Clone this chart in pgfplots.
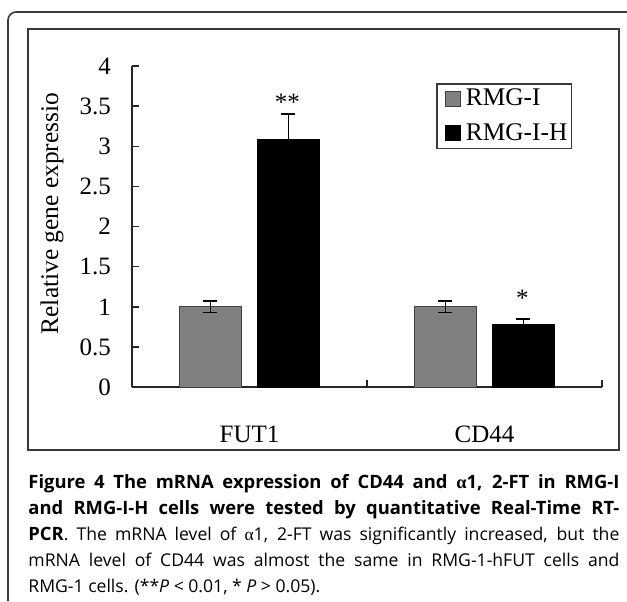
\documentclass[border=0pt]{standalone}
\usepackage{fontspec}
\setmainfont{Liberation Serif}
\newfontfamily\capfont{Open Sans}
\newfontfamily\greekfont{Liberation Serif}
\usepackage{pgfplots}
\pgfplotsset{compat=1.18}

\definecolor{barGray}{HTML}{808080}
\definecolor{frameGray}{HTML}{3A3A3A}

\begin{document}
\begin{tikzpicture}[x=0.5pt,y=0.5pt]
\useasboundingbox (0,0) rectangle (627,601);
% outer frame (only top and left edges show)
\draw[frameGray, line width=0.8pt] (8,0) -- (8,581) arc[start angle=180,end angle=90,radius=8] -- (627,589);
% chart box
\draw[frameGray, line width=0.8pt] (28,151) rectangle (619,572);

\begin{axis}[
    at={(66pt,107pt)}, anchor=south west,
    scale only axis,
    width=235pt, height=160.5pt,
    ybar=8pt,
    bar width=31pt,
    xmin=-0.5, xmax=1.5,
    ymin=0, ymax=4,
    ytick={0,0.5,...,4},
    xtick={-0.5,0.5,1.5},
    xticklabels={,,},
    extra x ticks={0,1},
    extra x tick labels={FUT1,CD44},
    extra x tick style={major tick length=0pt, xticklabel style={yshift=-16pt}},
    axis lines=left,
    axis line style={-, line width=0.75pt, black!85},
    tick align=inside,
    major tick length=3.5pt,
    tick style={line width=0.75pt, black!85},
    tick label style={font=\fontsize{12.5}{15}\selectfont},
    /pgf/number format/assume math mode=true,
    yticklabel style={xshift=-7pt},
    ylabel={Relative gene expressio},
    ylabel style={at={(axis description cs:-0.17,0.54)}, anchor=center, font=\fontsize{12.7}{15}\selectfont},
    legend style={at={(axis description cs:0.647,0.947)}, anchor=north west,
        draw=frameGray, line width=0.75pt, font=\fontsize{12.7}{15}\selectfont,
        row sep=3.5pt, inner ysep=0.5pt, inner xsep=2pt, nodes={inner xsep=0pt}},
    legend cell align=left,
    legend image code/.code={\path[draw=none, fill=none] (0pt,0pt) -- (12.5pt,0pt);
        \draw[#1, line width=0.5pt] (2.5pt,-3.75pt) rectangle (10pt,3.75pt);},
]
\addplot[fill=barGray, draw=black!75, line width=0.5pt,
    error bars/.cd, y dir=both, y explicit,
    error bar style={line width=0.75pt, black},
    error mark options={rotate=90, line width=0.75pt, black, mark size=3.5pt}]
    coordinates {(0,1.00) +- (0,0.07) (1,1.00) +- (0,0.07)};
\addlegendentry{RMG-I}
\addplot[fill=black, draw=black, line width=0.5pt,
    error bars/.cd, y dir=both, y explicit,
    error bar style={line width=0.75pt, black},
    error mark options={rotate=90, line width=0.75pt, black, mark size=3.5pt}]
    coordinates {(0,3.09) +- (0,0.31) (1,0.78) +- (0,0.07)};
\addlegendentry{RMG-I-H}
\node[font=\fontsize{12.5}{15}\selectfont] at ([xshift=19pt,yshift=-2pt]axis cs:0,3.60) {**};
\node[font=\fontsize{12.5}{15}\selectfont] at ([xshift=19pt,yshift=-2pt]axis cs:1,1.15) {*};
\end{axis}

\node[anchor=north west, inner sep=0pt, text width=295.5pt, align=justify,
      font=\capfont\fontsize{8.8}{13}\selectfont] at (28,127) {%
\hyphenpenalty=10000\emergencystretch=2em
{\fontsize{9.2}{13}\selectfont\bfseries Figure 4 The mRNA expression of CD44 and {\greekfont α}1, 2-FT in RMG-I\linebreak
and RMG-I-H cells were tested by quantitative Real-Time RT-\linebreak
PCR}. The mRNA level of {\greekfont α}1, 2-FT was significantly increased, but the\linebreak
mRNA level of CD44 was almost the same in RMG-1-hFUT cells and\linebreak
RMG-1 cells. (**\textit{P} < 0.01, * \textit{P} > 0.05).\par};
\end{tikzpicture}
\end{document}
